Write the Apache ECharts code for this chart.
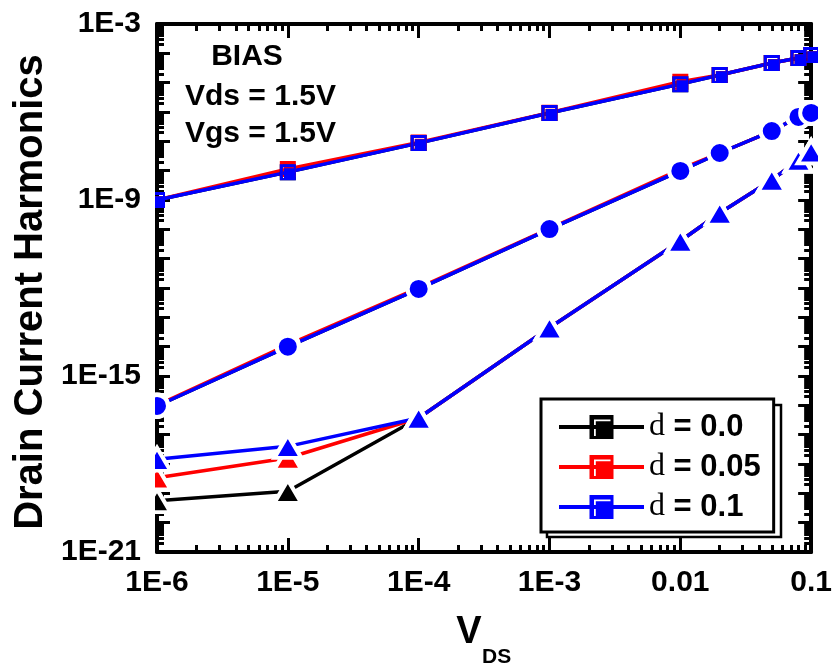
<!DOCTYPE html>
<html>
<head>
<meta charset="utf-8">
<script src="https://cdn.jsdelivr.net/npm/echarts@6/dist/echarts.min.js"></script>
<style>
  html, body { margin: 0; padding: 0; background: #fff; }
  #chart { width: 835px; height: 667px; }
</style>
</head>
<body>
<div id="chart"></div>
<script>
// Drain voltage sweep (V)
const vds = [1e-6, 1e-5, 1e-4, 1e-3, 0.01, 0.02, 0.05, 0.08, 0.1];

// Fundamental harmonic (square markers)
const fund_d000 = [1.0e-9, 8.9e-9, 8.7e-8, 9.3e-7, 8.9e-6, 1.82e-5, 4.68e-5, 6.9e-5, 8.7e-5];
const fund_d005 = [1.0e-9, 1.15e-8, 9.1e-8, 9.5e-7, 1.07e-5, 1.82e-5, 4.68e-5, 6.9e-5, 8.7e-5];
const fund_d010 = [1.0e-9, 8.9e-9, 8.7e-8, 9.3e-7, 8.9e-6, 1.82e-5, 4.68e-5, 6.9e-5, 8.7e-5];

// Second harmonic (circle markers)
const second_d000 = [9.5e-17, 1.0e-14, 9.3e-13, 1.02e-10, 9.8e-9, 4.0e-8, 2.24e-7, 6.8e-7, 9.3e-7];
const second_d005 = [1.0e-16, 1.15e-14, 1.02e-12, 1.07e-10, 1.12e-8, 4.0e-8, 2.24e-7, 6.8e-7, 9.3e-7];
const second_d010 = [9.5e-17, 1.0e-14, 9.3e-13, 1.02e-10, 9.8e-9, 4.0e-8, 2.24e-7, 6.8e-7, 9.3e-7];

// Third harmonic (triangle markers)
const third_d000 = [5.6e-20, 1.17e-19, 3.7e-17, 4.4e-14, 4.0e-11, 3.6e-10, 4.8e-9, 2.3e-8, 4.4e-8];
const third_d005 = [3.4e-19, 1.6e-18, 3.7e-17, 4.4e-14, 4.0e-11, 3.6e-10, 4.8e-9, 2.3e-8, 4.4e-8];
const third_d010 = [1.45e-18, 4.0e-18, 3.7e-17, 4.4e-14, 4.0e-11, 3.6e-10, 4.8e-9, 2.3e-8, 4.4e-8];

const seriesNames = ['d = 0.0', 'd = 0.05', 'd = 0.1'];
const seriesColors = ['#000000', '#ff0000', '#0000ff'];

// Axis ranges and tick labels
const xRange = [1e-6, 0.1];
const yRange = [1e-21, 1e-3];
const xTickValues = [1e-6, 1e-5, 1e-4, 1e-3, 0.01, 0.1];
const xTickLabels = ['1E-6', '1E-5', '1E-4', '1E-3', '0.01', '0.1'];
const yLabelValues = [1e-21, 1e-15, 1e-9, 1e-3];
const yTickLabels = ['1E-21', '1E-15', '1E-9', '1E-3'];

const SANS = '"Liberation Sans", Arial, sans-serif';
const SERIF = '"Liberation Serif", "Times New Roman", serif';

function decades(lo, hi) {
  const out = [];
  for (let e = lo; e <= hi; e++) out.push(Math.pow(10, e));
  return out;
}
function minorValues(lo, hi) {
  const out = [];
  for (let e = lo; e < hi; e++) {
    for (let k = 2; k <= 9; k++) out.push(k * Math.pow(10, e));
  }
  return out;
}
const expOf = v => Math.round(Math.log10(v));

const xMajor = xTickValues;
const xMinor = minorValues(-6, -1);
const yMajor = decades(-21, -3);
const yMinor = minorValues(-21, -3);

function axis(kind, position, ticks, len, withLine, labels) {
  const range = kind === 'x' ? xRange : yRange;
  const a = {
    type: 'log',
    logBase: 10,
    position: position,
    min: range[0],
    max: range[1],
    axisLine: { show: withLine, onZero: false, lineStyle: { color: '#000', width: 4 } },
    axisTick: { show: true, inside: true, length: len, customValues: ticks,
                lineStyle: { color: '#000', width: 3 } },
    axisLabel: { show: false },
    splitLine: { show: false },
    minorTick: { show: false },
    minorSplitLine: { show: false }
  };
  if (labels) {
    a.axisLabel = {
      show: true,
      customValues: labels.values,
      formatter: v => {
        const i = labels.values.findIndex(t => expOf(t) === expOf(v));
        return i >= 0 ? labels.text[i] : '';
      },
      color: '#000',
      fontFamily: SANS,
      fontWeight: 'bold',
      fontSize: 30,
      margin: 16
    };
  }
  return a;
}

function lineSeries(name, values, color, symbol, size, gap, z) {
  return {
    name: name,
    type: 'line',
    xAxisIndex: 0,
    yAxisIndex: 0,
    data: vds.map((x, i) => [x, values[i]]),
    symbol: symbol,
    symbolSize: size,
    showSymbol: true,
    clip: true,
    z: z,
    lineStyle: { color: color, width: 3.5 },
    itemStyle: gap ? { color: color, borderColor: '#fff', borderWidth: 4 }
                   : { color: color, borderWidth: 0 },
    emphasis: { disabled: true },
    animation: false
  };
}

// Square marker with the small white corner highlight
const squareSymbol = 'path://M0,0H16V16H0Z M3,3V14H4.2V4.2H14V3Z';

const fundSets = [fund_d000, fund_d005, fund_d010];
const secondSets = [second_d000, second_d005, second_d010];
const thirdSets = [third_d000, third_d005, third_d010];

const series = [];
for (let k = 0; k < 3; k++) {
  const c = seriesColors[k];
  series.push(lineSeries(seriesNames[k] + ' 3rd', thirdSets[k], c, 'triangle', [27, 23], true, 2));
  series.push(lineSeries(seriesNames[k] + ' 2nd', secondSets[k], c, 'circle', 22, true, 2));
  series.push(lineSeries(seriesNames[k], fundSets[k], c, squareSymbol, 16, false, 2));
}

const chart = echarts.init(document.getElementById('chart'), null, { renderer: 'canvas' });
chart.setOption({
  backgroundColor: '#fff',
  animation: false,
  grid: { left: 157, top: 24, width: 658, height: 528, containLabel: false },
  xAxis: [
    axis('x', 'bottom', xMajor, 14, true, { values: xTickValues, text: xTickLabels }),
    axis('x', 'bottom', xMinor, 7, false, null),
    axis('x', 'top', xMajor, 14, true, null),
    axis('x', 'top', xMinor, 7, false, null)
  ],
  yAxis: [
    axis('y', 'left', yMajor, 13, true, { values: yLabelValues, text: yTickLabels }),
    axis('y', 'left', yMinor, 7, false, null),
    axis('y', 'right', yMajor, 13, true, null),
    axis('y', 'right', yMinor, 7, false, null)
  ],
  legend: {
    data: seriesNames,
    orient: 'vertical',
    left: 541,
    top: 399,
    padding: [12, 13, 9, 16],
    itemWidth: 85,
    itemHeight: 30,
    itemGap: 8,
    backgroundColor: '#fff',
    borderColor: '#000',
    borderWidth: 3,
    borderRadius: 0,
    selectedMode: false,
    z: 10,
    lineStyle: { width: 4 },
    formatter: name => '{s|d}{b| ' + name.slice(2) + '}',
    textStyle: {
      color: '#000',
      rich: {
        s: { fontFamily: SERIF, fontSize: 32, color: '#000', lineHeight: 31 },
        b: { fontFamily: SANS, fontWeight: 'bold', fontSize: 31, color: '#000', lineHeight: 31 }
      }
    }
  },
  graphic: [
    // keep markers from spilling past the frame
    { type: 'rect', z: 5, shape: { x: 143, y: 0, width: 12, height: 560 }, style: { fill: '#fff' }, silent: true },
    { type: 'rect', z: 5, shape: { x: 818, y: 0, width: 17, height: 560 }, style: { fill: '#fff' }, silent: true },
    // legend drop frame
    { type: 'rect', z: 8, shape: { x: 547, y: 405, width: 234, height: 132 },
      style: { fill: '#fff', stroke: '#000', lineWidth: 2.5 }, silent: true },
    { type: 'text', z: 6, x: 247, y: 57,
      style: { text: 'BIAS', font: 'bold 30px ' + SANS, fill: '#000', align: 'center', verticalAlign: 'middle' } },
    { type: 'text', z: 6, x: 185, y: 97,
      style: { text: 'Vds = 1.5V', font: 'bold 30px ' + SANS, fill: '#000', align: 'left', verticalAlign: 'middle' } },
    { type: 'text', z: 6, x: 185, y: 134,
      style: { text: 'Vgs = 1.5V', font: 'bold 30px ' + SANS, fill: '#000', align: 'left', verticalAlign: 'middle' } },
    { type: 'text', z: 6, x: 31, y: 292, rotation: Math.PI / 2,
      style: { text: 'Drain Current Harmonics', font: 'bold 40px ' + SANS, fill: '#000', align: 'center', verticalAlign: 'middle' } },
    { type: 'text', z: 6, x: 469, y: 633,
      style: { text: 'V', font: 'bold 38px ' + SANS, fill: '#000', align: 'center', verticalAlign: 'middle' } },
    { type: 'text', z: 6, x: 482, y: 657,
      style: { text: 'DS', font: 'bold 21px ' + SANS, fill: '#000', align: 'left', verticalAlign: 'middle' } }
  ],
  series: series
});
</script>
</body>
</html>
